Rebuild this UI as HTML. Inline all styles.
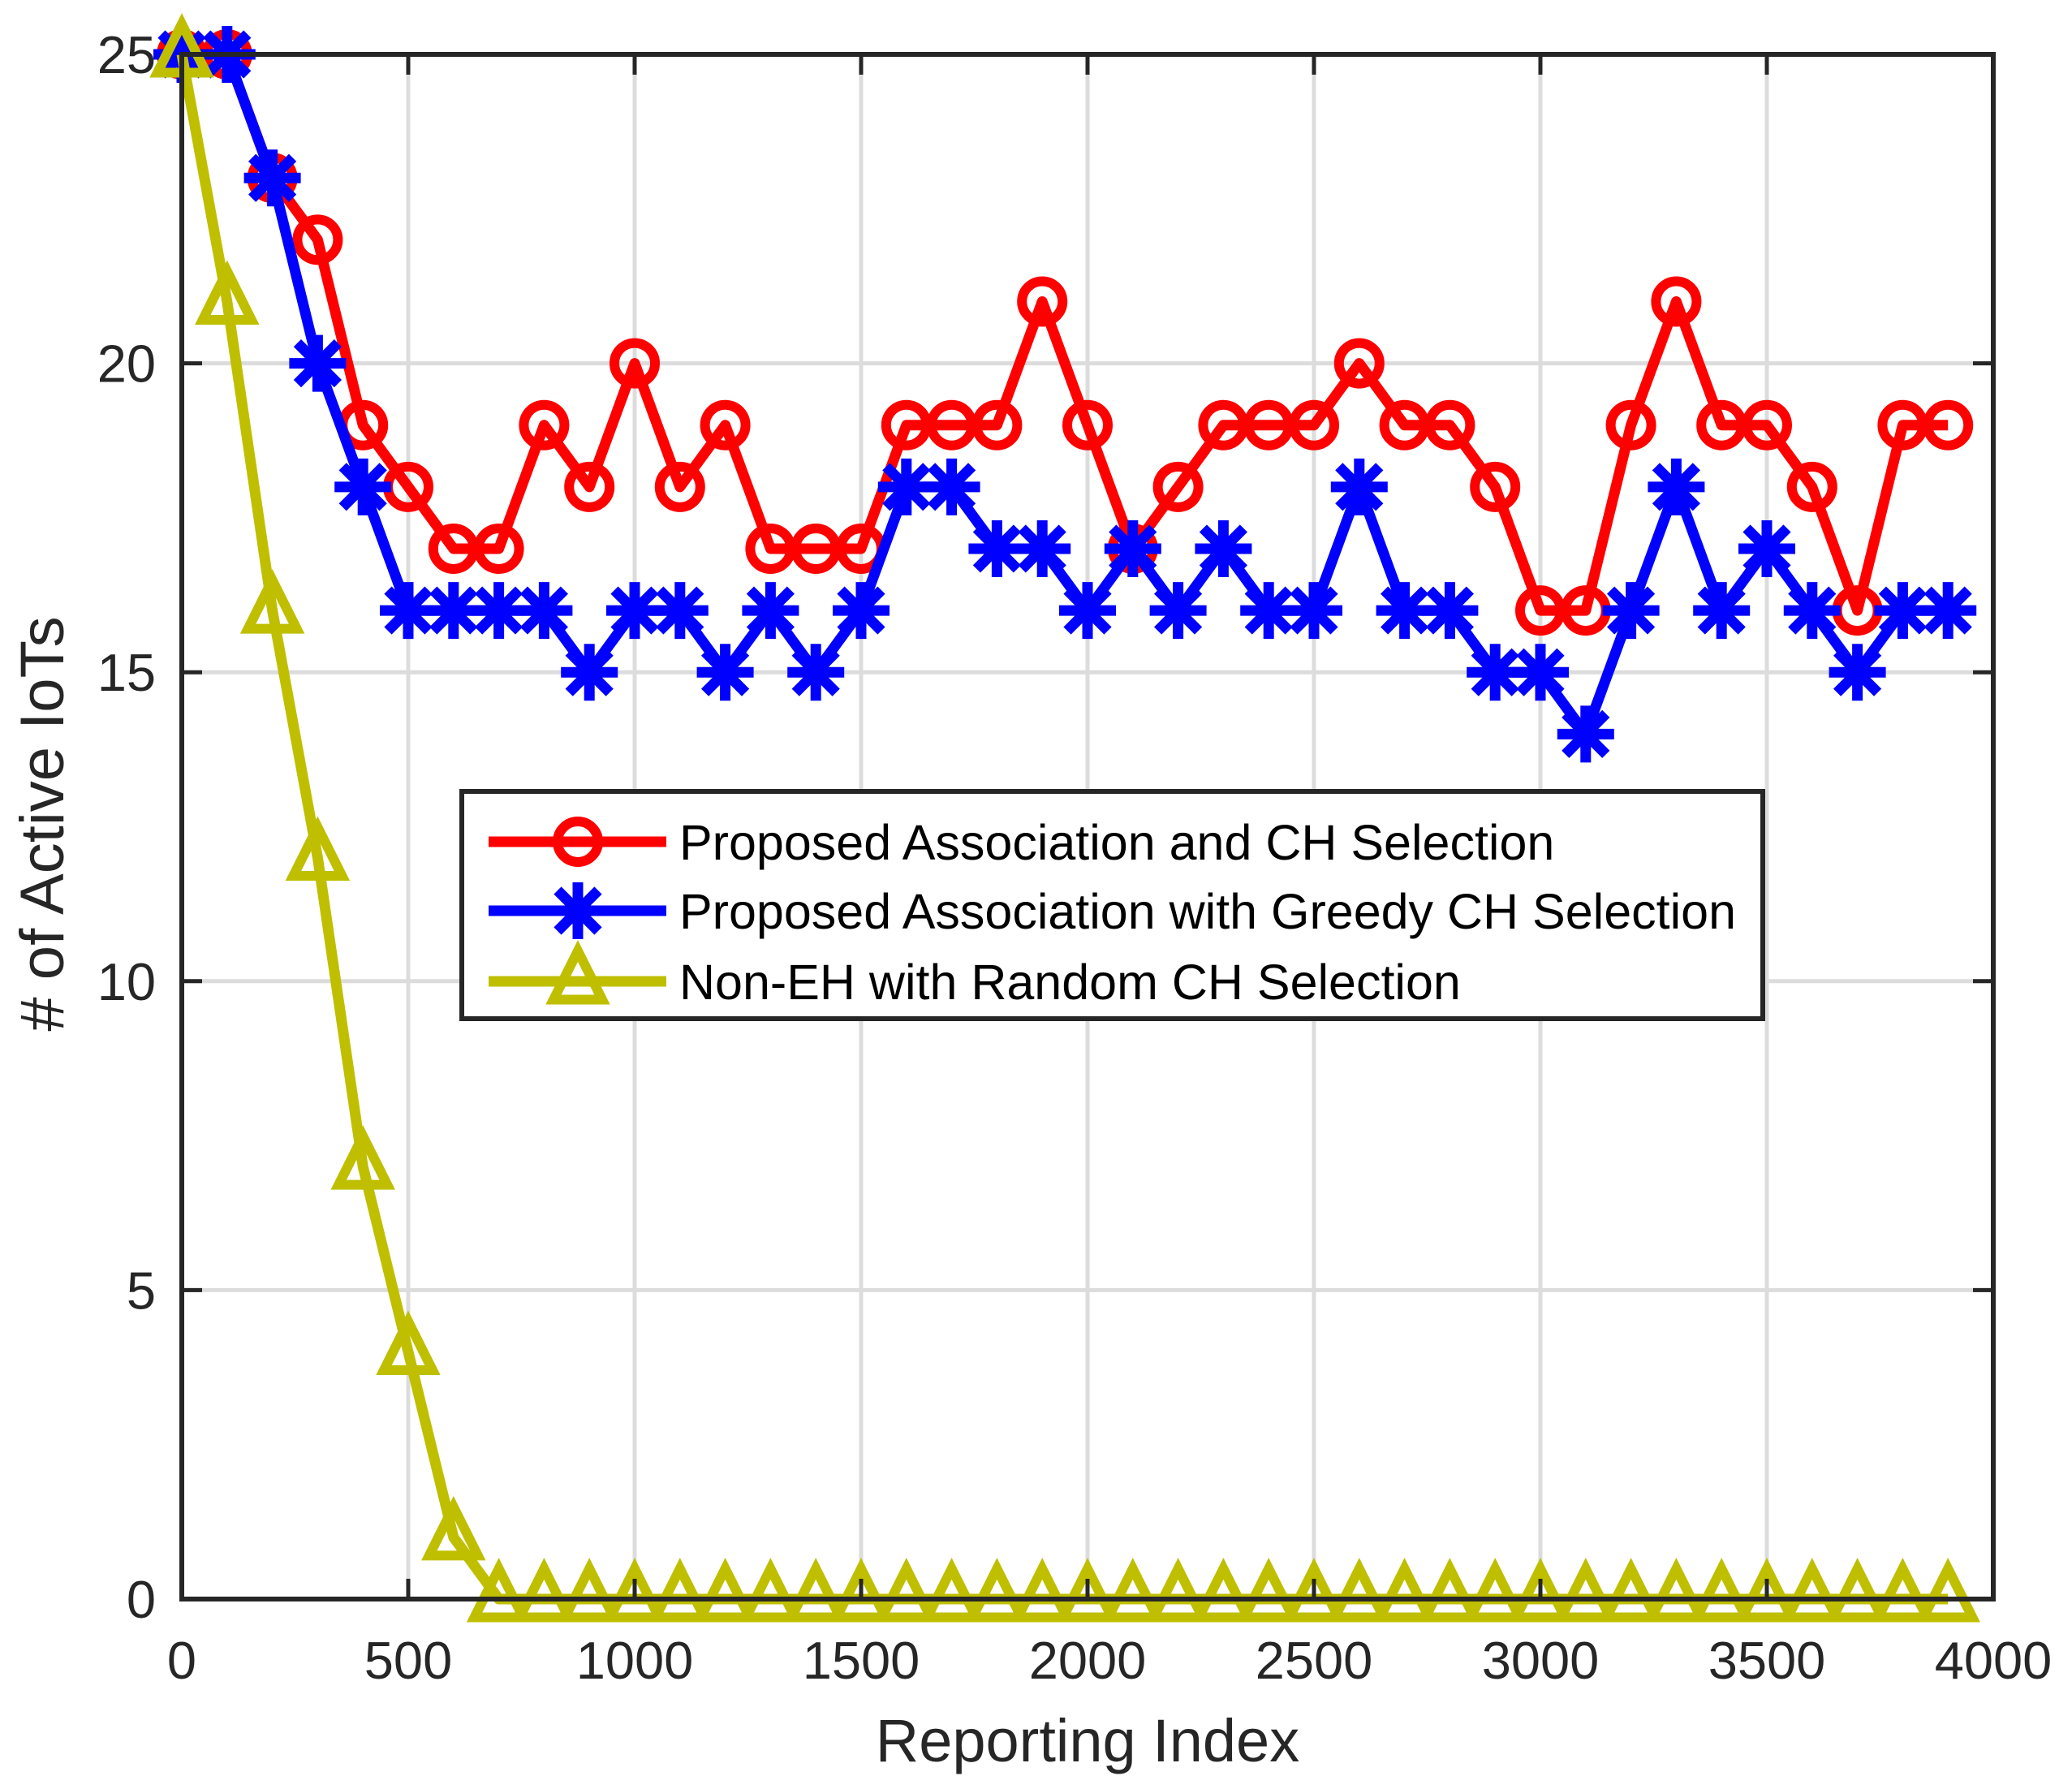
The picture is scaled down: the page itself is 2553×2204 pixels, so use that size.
<!DOCTYPE html>
<html><head><meta charset="utf-8"><style>html,body{margin:0;padding:0;background:#fff}svg{display:block}</style></head>
<body>
<svg id="chart" width="2553" height="2204" viewBox="0 0 2553 2204" xmlns="http://www.w3.org/2000/svg" font-family="Liberation Sans, Arial, sans-serif">
<rect width="2553" height="2204" fill="#fff"/>
<g id="grid"></g>
<g id="series"></g>
<g id="axes"></g>
<text x="1340" y="2170" font-size="74" text-anchor="middle" fill="#262626">Reporting Index</text>
<text transform="translate(78,1015) rotate(-90)" font-size="76" text-anchor="middle" fill="#262626"># of Active IoTs</text>
<g id="legend">
  <rect x="569" y="975" width="1603" height="280" fill="#fff" stroke="#262626" stroke-width="6"/>
</g>
</svg>
<script>
const xValues = [0,100,200,300,400,500,600,700,800,900,1000,1100,1200,1300,1400,1500,1600,1700,1800,1900,2000,2100,2200,2300,2400,2500,2600,2700,2800,2900,3000,3100,3200,3300,3400,3500,3600,3700,3800,3900];
const proposedCH = [25,25,23,22,19,18,17,17,19,18,20,18,19,17,17,17,19,19,19,21,19,17,18,19,19,19,20,19,19,18,16,16,19,21,19,19,18,16,19,19];
const greedyCH = [25,25,23,20,18,16,16,16,16,15,16,16,15,16,15,16,18,18,17,17,16,17,16,17,16,16,18,16,16,15,15,14,16,18,16,17,16,15,16,16];
const randomCH = [25,21,16,12,7,4,1,0,0,0,0,0,0,0,0,0,0,0,0,0,0,0,0,0,0,0,0,0,0,0,0,0,0,0,0,0,0,0,0,0];
const xTicks = [0,500,1000,1500,2000,2500,3000,3500,4000];
const yTicks = [0,5,10,15,20,25];
const seriesNames = ["Proposed Association and CH Selection","Proposed Association with Greedy CH Selection","Non-EH with Random CH Selection"];

const NS="http://www.w3.org/2000/svg";
const L=224,R=2456,T=67,B=1970;
const sx=v=>L+(v-0)/4000*(R-L);
const sy=v=>B-(v-0)/25*(B-T);
function mk(tag,attrs,parent){const e=document.createElementNS(NS,tag);for(const k in attrs)e.setAttribute(k,attrs[k]);parent.appendChild(e);return e;}
const grid=document.getElementById('grid'),axes=document.getElementById('axes'),ser=document.getElementById('series'),leg=document.getElementById('legend');
const ax='#262626';
xTicks.forEach(t=>{
  if(t>0&&t<4000){const g=mk('line',{x1:sx(t),x2:sx(t),y1:T,y2:B,stroke:'#dcdcdc','stroke-width':5},grid);
  
  }
  const a=mk('line',{x1:sx(t),x2:sx(t),y1:B,y2:B-25,stroke:ax,'stroke-width':5},axes);
  
  
  const b=mk('line',{x1:sx(t),x2:sx(t),y1:T,y2:T+25,stroke:ax,'stroke-width':5},axes);
  
  
  const tx=mk('text',{x:sx(t),y:2068,'font-size':65,'text-anchor':'middle',fill:ax},axes);
  
  
  tx.textContent=t;
});
yTicks.forEach(t=>{
  if(t>0&&t<25){const g=mk('line',{x1:L,x2:R,y1:sy(t),y2:sy(t),stroke:'#dcdcdc','stroke-width':5},grid);
  
  }
  const a=mk('line',{x1:L,x2:L+25,y1:sy(t),y2:sy(t),stroke:ax,'stroke-width':5},axes);
  
  
  const b=mk('line',{x1:R,x2:R-25,y1:sy(t),y2:sy(t),stroke:ax,'stroke-width':5},axes);
  
  
  const tx=mk('text',{x:192,y:sy(t)+23,'font-size':65,'text-anchor':'end',fill:ax},axes);
  
  
  tx.textContent=t;
});
const frame=mk('rect',{x:L,y:T,width:R-L,height:B-T,fill:'none',stroke:ax,'stroke-width':6},axes);



function marker(type,x,y,color,parent){
  const g=mk('g',{},parent);
  if(type==='o'){mk('circle',{cx:x,cy:y,r:25,fill:'none',stroke:color,'stroke-width':12},g);}
  else if(type==='*'){const s=35,d=25;
    mk('path',{d:`M${x-s},${y}H${x+s}M${x},${y-s}V${y+s}M${x-d},${y-d}L${x+d},${y+d}M${x-d},${y+d}L${x+d},${y-d}`,stroke:color,'stroke-width':13,fill:'none'},g);}
  else {const h=30;mk('path',{d:`M${x},${y-h*1.25}L${x+h},${y+h*0.75}L${x-h},${y+h*0.75}Z`,fill:'none',stroke:color,'stroke-width':12,'stroke-linejoin':'miter'},g);}
  return g;
}
const defs=[[proposedCH,'#ff0000','o'],[greedyCH,'#0000ff','*'],[randomCH,'#bfbf00','^']];
const names=['series-proposed','series-greedy','series-random'];
defs.forEach((d,i)=>{
  const g=mk('g',{},ser);
  
  
  const pts=xValues.map((x,j)=>sx(x)+','+sy(d[0][j])).join(' ');
  const pl=mk('polyline',{points:pts,fill:'none',stroke:d[1],'stroke-width':13,'stroke-linejoin':'round'},g);
  
  
  xValues.forEach((x,j)=>{const m=marker(d[2],sx(x),sy(d[0][j]),d[1],g);
    
    });
});
const ly=[1037,1122,1209];
defs.forEach((d,i)=>{
  const g=mk('g',{},leg);
  
  
  mk('line',{x1:602,x2:821,y1:ly[i],y2:ly[i],stroke:d[1],'stroke-width':13},g);
  marker(d[2],712,ly[i],d[1],g);
  const t=mk('text',{x:837,y:ly[i]+22,'font-size':61,fill:'#000'},g);
  
  
  t.textContent=seriesNames[i];
});
</script>
</body></html>
